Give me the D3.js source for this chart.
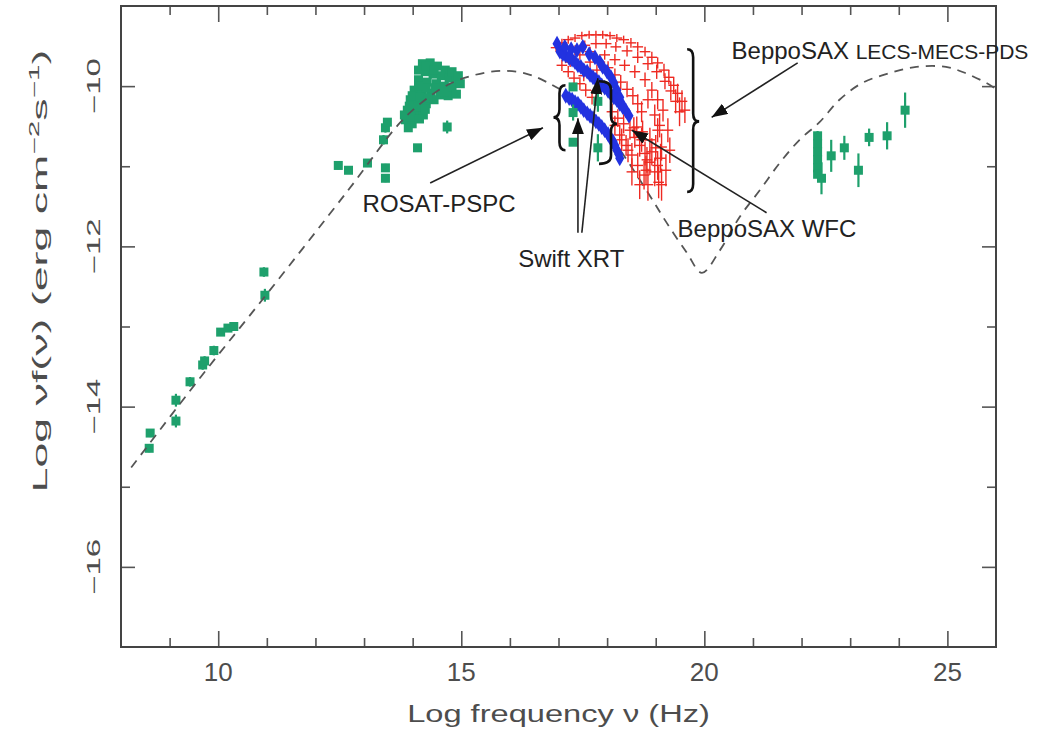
<!DOCTYPE html>
<html>
<head>
<meta charset="utf-8">
<script src="https://cdn.jsdelivr.net/npm/d3@7"></script>
<style>
body { margin: 0; background: #fff; }
svg text { font-family: "Liberation Sans", Arial, sans-serif; }
</style>
</head>
<body>
<svg id="chart" width="1046" height="730"></svg>
<script>
// ---- axis ticks
var xMajor = [10, 15, 20, 25];
var xMinor = [9, 11, 12, 13, 14, 16, 17, 18, 19, 21, 22, 23, 24];
var xTickLabels = ['10', '15', '20', '25'];
var yMajor = [-10, -12, -14, -16];
var yMinor = [-11, -13, -15];
var yTickLabels = ['\u221210', '\u221212', '\u221214', '\u221216'];

// ---- model SED (dashed)
var modelX = [8.21, 9.64, 11.02, 12.66, 13.75, 14.26, 14.77, 15.28, 15.80, 16.31, 16.76, 17.44, 18.16, 18.84,
              19.23, 19.64, 19.95, 20.32, 20.73, 21.14, 21.55, 21.96, 22.37, 22.78, 23.25, 23.80, 24.36,
              24.97, 25.38, 25.80, 25.96];
var modelY = [-14.76, -13.63, -12.58, -11.31, -10.45, -10.17, -9.97, -9.86, -9.81, -9.84, -9.95, -10.21, -10.71, -11.33,
              -11.71, -12.08, -12.33, -12.05, -11.63, -11.30, -10.96, -10.67, -10.45, -10.17, -9.96, -9.84, -9.76,
              -9.76, -9.84, -9.96, -10.02];

// ---- green: radio
var radioX = [8.58, 8.60, 9.13, 9.13, 9.42, 9.68, 9.72, 9.91, 10.05, 10.20, 10.32, 10.94, 10.96];
var radioY = [-14.52, -14.33, -14.18, -13.92, -13.69, -13.48, -13.43, -13.30, -13.07, -13.02, -13.00, -12.32, -12.61];
var radioErr = [0.05, 0.05, 0.08, 0.08, 0.06, 0.06, 0.06, 0.06, 0.04, 0.04, 0.04, 0.06, 0.08];

// ---- green: IR / optical
var irX = [12.47, 12.68, 13.07, 13.44, 13.44, 13.40, 13.44, 13.48, 14.10, 14.71,
           14.20, 14.36, 14.51, 14.67, 14.26, 14.42, 14.59, 14.75, 14.90, 14.12, 14.30, 14.49, 14.65, 14.81, 14.98,
           14.03, 14.20, 14.38, 14.57, 14.73, 13.95, 14.12, 14.28, 14.44, 13.89, 14.05, 14.22, 13.85, 13.99,
           14.12, 14.28, 14.44, 14.81, 14.94, 14.90, 14.65, 14.47, 14.28, 14.12, 13.99, 14.16, 14.32,
           13.93, 14.10, 14.26, 13.83, 13.97, 14.14, 13.91];
var irY = [-10.99, -11.05, -10.96, -11.02, -11.15, -10.67, -10.52, -10.45, -10.77, -10.51,
           -9.72, -9.71, -9.75, -9.80, -9.82, -9.85, -9.87, -9.90, -9.92, -9.92, -9.95, -9.97, -10.00, -10.02, -9.97,
           -10.05, -10.07, -10.09, -10.11, -10.12, -10.17, -10.20, -10.22, -10.17, -10.30, -10.32, -10.36, -10.42, -10.47,
           -9.80, -9.75, -9.80, -9.82, -9.87, -10.10, -10.07, -10.02, -10.02, -10.00, -10.12, -10.14, -10.15,
           -10.25, -10.26, -10.29, -10.36, -10.39, -10.41, -10.52];
var irErr = [0.05, 0.04, 0.05, 0.05, 0.05, 0.06, 0.06, 0.05, 0.03, 0.08,
             0.03, 0.03, 0.03, 0.03, 0.03, 0.03, 0.03, 0.03, 0.03, 0.03, 0.03, 0.03, 0.03, 0.03, 0.03,
             0.03, 0.03, 0.03, 0.03, 0.03, 0.03, 0.03, 0.03, 0.03, 0.03, 0.03, 0.03, 0.03, 0.03,
             0.03, 0.03, 0.03, 0.03, 0.03, 0.03, 0.03, 0.03, 0.03, 0.03, 0.03, 0.03, 0.03,
             0.03, 0.03, 0.03, 0.03, 0.03, 0.03, 0.03];

// ---- green: ROSAT / Swift X-ray
var xgX = [17.30, 17.30, 17.30, 17.81, 17.81];
var xgY = [-10.01, -10.33, -10.70, -10.19, -10.77];
var xgErr = [0.05, 0.10, 0.04, 0.13, 0.17];

// ---- green: gamma-ray
var gammaX = [22.33, 22.33, 22.33, 22.33, 22.33, 22.33, 22.41, 22.61, 22.88, 23.17, 23.39, 23.76, 24.13];
var gammaY = [-10.62, -10.72, -10.82, -10.92, -11.02, -11.10, -11.15, -10.87, -10.77, -11.05, -10.64, -10.62, -10.30];
var gammaErr = [0.06, 0.03, 0.03, 0.03, 0.03, 0.03, 0.20, 0.20, 0.15, 0.21, 0.11, 0.17, 0.22];

// ---- blue: Swift XRT
var blueX = [16.97, 17.26, 17.50, 17.75, 17.91, 18.08, 18.20, 18.30,
             17.03, 17.15, 17.28, 17.40, 17.52, 17.65, 17.77, 17.89, 18.02, 18.14, 18.26, 18.39, 18.45,
             17.15, 17.28, 17.40, 17.52, 17.65, 17.77, 17.89, 18.02, 18.12, 18.20, 18.26,
             17.09, 17.22, 17.34, 17.46, 17.59, 17.71, 17.83, 17.95, 18.08, 18.20, 18.32,
             17.13, 17.38, 17.63, 17.85, 18.00, 18.14, 18.26,
             17.22, 17.34, 17.46, 17.59, 17.71, 17.83, 17.95, 18.06, 18.16, 18.24];
var blueY = [-9.47, -9.54, -9.51, -9.64, -9.76, -9.89, -10.05, -10.22,
             -9.57, -9.62, -9.67, -9.74, -9.80, -9.86, -9.92, -9.99, -10.06, -10.14, -10.22, -10.31, -10.37,
             -10.12, -10.17, -10.22, -10.30, -10.37, -10.44, -10.51, -10.60, -10.69, -10.80, -10.90,
             -9.60, -9.65, -9.70, -9.76, -9.82, -9.89, -9.95, -10.02, -10.10, -10.17, -10.26,
             -9.51, -9.55, -9.60, -9.70, -9.82, -9.96, -10.14,
             -10.15, -10.20, -10.26, -10.34, -10.40, -10.47, -10.55, -10.64, -10.74, -10.85];

// ---- red: BeppoSAX
var redX = [16.95, 17.07, 17.20, 17.34, 17.48, 17.63, 17.77, 17.91, 18.06, 18.20, 18.34, 18.49, 18.63, 18.78,
            18.92, 19.04, 19.17, 19.27, 19.37, 19.45, 19.54, 19.60,
            17.13, 17.34, 17.54, 17.77, 17.98, 18.18, 18.41, 18.63, 18.84, 19.02, 19.19, 19.31, 19.41, 19.49,
            17.07, 17.20, 17.32, 17.44, 17.65, 17.85, 18.02, 18.16, 18.28, 18.41, 18.53, 18.63, 18.71, 17.56, 17.69,
            18.10, 18.22, 18.34, 18.47, 18.57, 18.67, 18.78, 18.88, 18.98, 19.06, 18.61, 18.73, 18.88, 19.00,
            19.10, 19.21, 18.26, 18.39, 18.51, 18.63, 18.76, 18.84, 19.12, 19.04, 18.82,
            17.44, 17.65, 17.95, 18.16, 18.36, 18.57, 18.78, 18.92, 19.04, 19.15, 18.84, 18.98, 19.08,
            17.24, 17.52, 17.79, 18.16, 18.30, 18.43, 18.55, 18.71, 18.80, 18.92, 19.04, 19.12, 18.67,
            18.51, 19.29, 19.25];
var redY = [-9.52, -9.46, -9.42, -9.40, -9.37, -9.36, -9.36, -9.36, -9.37, -9.40, -9.42, -9.46, -9.51, -9.57,
            -9.64, -9.71, -9.80, -9.89, -9.99, -10.09, -10.19, -10.30,
            -9.61, -9.55, -9.49, -9.47, -9.47, -9.51, -9.56, -9.64, -9.72, -9.82, -9.94, -10.06, -10.19, -10.32,
            -9.74, -9.82, -9.90, -9.97, -9.70, -9.70, -9.77, -9.86, -9.95, -10.04, -10.12, -10.22, -10.32, -10.05, -10.14,
            -10.32, -10.40, -10.47, -10.55, -10.64, -10.74, -10.84, -10.95, -11.07, -11.20, -10.51, -10.57, -10.67, -10.77,
            -10.90, -11.05, -10.61, -10.74, -10.86, -10.99, -11.11, -11.23, -10.76, -10.55, -10.92,
            -9.61, -9.57, -9.61, -9.67, -9.74, -9.82, -9.92, -10.05, -10.17, -10.30, -10.17, -10.36, -10.49,
            -9.70, -9.87, -9.80, -10.49, -10.67, -10.80, -10.52, -10.67, -11.05, -10.82, -10.99, -11.23, -11.23,
            -11.07, -10.80, -10.55];
var redErr = [0.05, 0.05, 0.05, 0.05, 0.05, 0.05, 0.05, 0.05, 0.05, 0.05, 0.05, 0.06, 0.06, 0.06,
              0.07, 0.07, 0.08, 0.09, 0.10, 0.12, 0.14, 0.16,
              0.06, 0.06, 0.06, 0.06, 0.06, 0.06, 0.07, 0.07, 0.08, 0.09, 0.10, 0.12, 0.15, 0.18,
              0.07, 0.07, 0.08, 0.08, 0.07, 0.07, 0.08, 0.08, 0.09, 0.10, 0.11, 0.12, 0.13, 0.08, 0.09,
              0.10, 0.11, 0.12, 0.12, 0.13, 0.14, 0.15, 0.16, 0.18, 0.20, 0.13, 0.14, 0.15, 0.16,
              0.18, 0.20, 0.12, 0.13, 0.15, 0.16, 0.18, 0.20, 0.17, 0.15, 0.16,
              0.06, 0.06, 0.06, 0.07, 0.07, 0.08, 0.09, 0.10, 0.12, 0.14, 0.11, 0.13, 0.15,
              0.06, 0.07, 0.07, 0.12, 0.14, 0.15, 0.13, 0.15, 0.18, 0.17, 0.18, 0.20, 0.18,
              0.17, 0.16, 0.15];

// ---- annotations (data coordinates)
var labelText = ['ROSAT-PSPC', 'Swift XRT', 'BeppoSAX WFC'];
var labelX = [12.97, 16.17, 19.45];
var labelY = [-11.57, -12.26, -11.88];
// arrows: from (x0,y0) to head (x1,y1)
var arrowX0 = [14.36, 17.40, 17.48, 21.28, 21.92];
var arrowY0 = [-11.21, -11.83, -11.83, -11.58, -9.71];
var arrowX1 = [16.68, 17.40, 17.81, 18.51, 20.15];
var arrowY1 = [-10.52, -10.40, -9.90, -10.55, -10.39];
// braces: spine x, top, middle, bottom, side the tip points to
var braceX = [17.02, 18.08, 19.77];
var braceTop = [-9.99, -9.94, -9.54];
var braceMid = [-10.39, -10.47, -10.44];
var braceBot = [-10.80, -10.97, -11.32];
var braceDir = [-1, 1, 1];

var svg = d3.select('#chart');
var x = d3.scaleLinear().domain([8, 26]).range([121, 996]);
var y = d3.scaleLinear().domain([-17, -9]).range([647, 6]);

var green = '#1ea06c', red = '#ee2a22', blue = '#2232e0';
var axisInk = '#4d4d4d';

// ---- frame and ticks
function tickAxis(axis, tx, ty, vals, size)
{
    var g = svg.append('g')
        .attr('transform', 'translate(' + tx + ',' + ty + ')')
        .call(axis.tickValues(vals).tickSize(-size).tickFormat(''));
    g.select('.domain').remove();
    g.selectAll('line').attr('stroke', '#555').attr('stroke-width', 1.6);
}
tickAxis(d3.axisBottom(x), 0, 647, xMajor, 16);
tickAxis(d3.axisBottom(x), 0, 647, xMinor, 9);
tickAxis(d3.axisTop(x), 0, 6, xMajor, 16);
tickAxis(d3.axisTop(x), 0, 6, xMinor, 9);
tickAxis(d3.axisLeft(y), 121, 0, yMajor, 14);
tickAxis(d3.axisLeft(y), 121, 0, yMinor, 9);
tickAxis(d3.axisRight(y), 996, 0, yMajor, 14);
tickAxis(d3.axisRight(y), 996, 0, yMinor, 9);

svg.append('rect')
    .attr('x', 121).attr('y', 6)
    .attr('width', 996 - 121).attr('height', 647 - 6)
    .attr('fill', 'none').attr('stroke', '#444').attr('stroke-width', 2);

// stretch text to a target length (the original font is wider)
function fit(t, px, py, rot, len)
{
    var w = t.node().getComputedTextLength();
    t.attr('transform', 'translate(' + px + ',' + py + ') rotate(' + rot + ') scale(' + (len / w) + ',1)');
}

// x tick labels
for (var i = 0; i < xMajor.length; i++)
{
    svg.append('text')
        .attr('x', x(xMajor[i])).attr('y', 681)
        .attr('text-anchor', 'middle')
        .attr('font-size', 26).attr('fill', axisInk)
        .text(xTickLabels[i]);
}
// y tick labels (rotated)
for (var i = 0; i < yMajor.length; i++)
{
    var t = svg.append('text')
        .attr('text-anchor', 'middle')
        .attr('font-size', 18).attr('fill', axisInk)
        .text(yTickLabels[i]);
    fit(t, 100, y(yMajor[i]), -90, 56);
}

// axis titles
var xt = svg.append('text')
    .attr('text-anchor', 'middle')
    .attr('font-size', 24).attr('fill', axisInk)
    .text('Log frequency \u03bd (Hz)');
fit(xt, (x.range()[0] + x.range()[1]) / 2, 722, 0, 303);

var yt = svg.append('text')
    .attr('text-anchor', 'middle')
    .attr('font-size', 21).attr('fill', axisInk);
yt.append('tspan').text('Log \u03bdf(\u03bd) (erg cm');
yt.append('tspan').attr('dy', -8).attr('font-size', 14).text('\u22122');
yt.append('tspan').attr('dy', 8).text('s');
yt.append('tspan').attr('dy', -8).attr('font-size', 14).text('\u22121');
yt.append('tspan').attr('dy', 8).text(')');
fit(yt, 47, 271, -90, 443);

// ---- points
function squares(xs, ys, es)
{
    var g = svg.append('g');
    for (var i = 0; i < xs.length; i++)
    {
        var cx = x(xs[i]), cy = y(ys[i]);
        g.append('line')
            .attr('x1', cx).attr('x2', cx)
            .attr('y1', y(ys[i] + es[i])).attr('y2', y(ys[i] - es[i]))
            .attr('stroke', green).attr('stroke-width', 2.2);
        g.append('rect')
            .attr('x', cx - 4.5).attr('y', cy - 4.5)
            .attr('width', 9).attr('height', 9)
            .attr('fill', green);
    }
}
squares(radioX, radioY, radioErr);
squares(irX, irY, irErr);
squares(gammaX, gammaY, gammaErr);

// model curve
var line = d3.line()
    .x(function(d, i) { return x(modelX[i]); })
    .y(function(d, i) { return y(modelY[i]); })
    .curve(d3.curveCatmullRom);
svg.append('path')
    .attr('d', line(modelX))
    .attr('fill', 'none')
    .attr('stroke', '#555')
    .attr('stroke-width', 1.8)
    .attr('stroke-dasharray', '9,7');

// red crosses
var gr = svg.append('g').attr('stroke', red).attr('stroke-width', 1.4);
for (var i = 0; i < redX.length; i++)
{
    gr.append('line')
        .attr('x1', x(redX[i] - 0.11)).attr('x2', x(redX[i] + 0.11))
        .attr('y1', y(redY[i])).attr('y2', y(redY[i]));
    gr.append('line')
        .attr('x1', x(redX[i])).attr('x2', x(redX[i]))
        .attr('y1', y(redY[i] + redErr[i])).attr('y2', y(redY[i] - redErr[i]));
}

// blue diamonds
var sym = d3.symbol().type(d3.symbolDiamond).size(72);
for (var i = 0; i < blueX.length; i++)
{
    svg.append('path')
        .attr('d', sym())
        .attr('transform', 'translate(' + x(blueX[i]) + ',' + y(blueY[i]) + ')')
        .attr('fill', blue);
}

squares(xgX, xgY, xgErr);

// ---- braces
for (var i = 0; i < braceX.length; i++)
{
    var sx = x(braceX[i]), t0 = y(braceTop[i]), m = y(braceMid[i]), b = y(braceBot[i]);
    var dir = braceDir[i], h = (i == 1 ? 12 : 6), tip = 6, r = 8;
    var p = d3.path();
    p.moveTo(sx - dir * h, t0);
    p.quadraticCurveTo(sx, t0, sx, t0 + r);
    p.lineTo(sx, m - r);
    p.quadraticCurveTo(sx, m, sx + dir * tip, m);
    p.quadraticCurveTo(sx, m, sx, m + r);
    p.lineTo(sx, b - r);
    p.quadraticCurveTo(sx, b, sx - dir * h, b);
    svg.append('path')
        .attr('d', p.toString())
        .attr('fill', 'none').attr('stroke', '#111').attr('stroke-width', 2.6);
}

// ---- arrows
svg.append('defs').append('marker')
    .attr('id', 'head')
    .attr('viewBox', '0 0 16 12')
    .attr('refX', 16).attr('refY', 6)
    .attr('markerWidth', 16).attr('markerHeight', 12)
    .attr('markerUnits', 'userSpaceOnUse')
    .attr('orient', 'auto')
    .append('path').attr('d', 'M0,0L16,6L0,12Z').attr('fill', '#111');

for (var i = 0; i < arrowX0.length; i++)
{
    svg.append('line')
        .attr('x1', x(arrowX0[i])).attr('y1', y(arrowY0[i]))
        .attr('x2', x(arrowX1[i])).attr('y2', y(arrowY1[i]))
        .attr('stroke', '#222').attr('stroke-width', 1.6)
        .attr('marker-end', 'url(#head)');
}

// ---- labels
for (var i = 0; i < labelText.length; i++)
{
    svg.append('text')
        .attr('x', x(labelX[i])).attr('y', y(labelY[i]))
        .attr('font-size', 24).attr('fill', '#222')
        .text(labelText[i]);
}
var lb = svg.append('text')
    .attr('x', x(20.56)).attr('y', y(-9.66))
    .attr('fill', '#222');
lb.append('tspan').attr('font-size', 24).text('BeppoSAX ');
lb.append('tspan').attr('font-size', 21).text('LECS-MECS-PDS');
</script>
</body>
</html>
